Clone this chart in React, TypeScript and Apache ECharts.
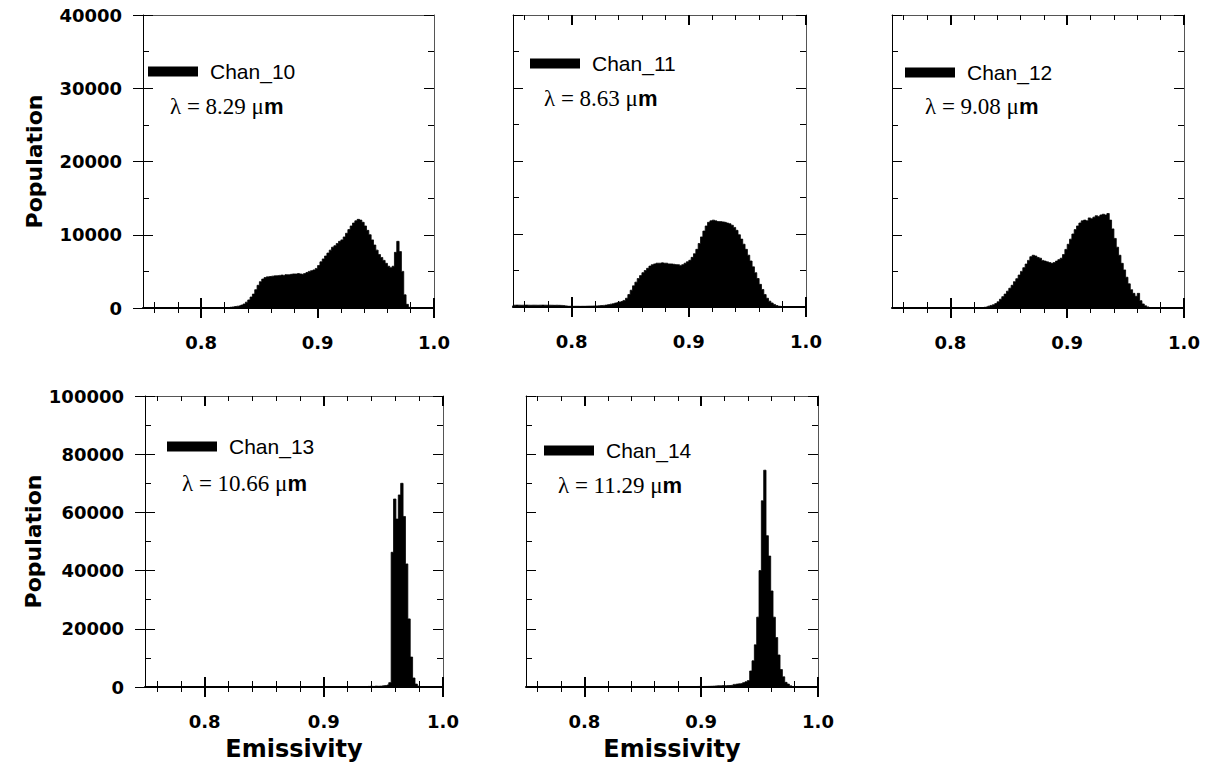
import React, { useEffect, useRef } from "react";
import * as echarts from "echarts";

// ---------- data ----------
const BIN = 0.002;
const X_MIN = 0.75;
const X_MAX = 1.0;
const MAJOR_X = [0.8, 0.9, 1.0];
const MINOR_X = [0.76, 0.78, 0.82, 0.84, 0.86, 0.88, 0.92, 0.94, 0.96, 0.98];

const CHANNELS = ["Chan_10", "Chan_11", "Chan_12", "Chan_13", "Chan_14"];
const WAVELENGTHS = ["8.29", "8.63", "9.08", "10.66", "11.29"];
const Y_MAX = [40000, 40000, 40000, 100000, 100000];
const Y_STEP = [10000, 10000, 10000, 20000, 20000];

// first bin centre of each channel
const CHAN10_START = 0.823;
const CHAN10 = [
  50, 100, 150, 200, 250, 300, 400, 550, 800, 1100, 1500, 1900, 2500, 3100, 3600, 3950,
  4150, 4250, 4300, 4350, 4400, 4400, 4450, 4500, 4450, 4550, 4550, 4600, 4650, 4650,
  4700, 4650, 4600, 4700, 4850, 5000, 5100, 5200, 5400, 5800, 6300, 6700, 7100, 7500,
  7900, 8300, 8500, 8800, 9100, 9300, 9700, 10200, 10700, 11200, 11600, 11900, 12100,
  12000, 11700, 11200, 10600, 10000, 9300, 8600, 7900, 7300, 6900, 6500, 6100, 5700,
  5500, 5700, 7600, 9100, 7700, 5000, 1800, 500, 100,
];

const CHAN11_START = 0.751;
const CHAN11 = [
  250, 260, 250, 240, 250, 260, 250, 240, 250, 250, 240, 250, 260, 250, 240, 250, 240,
  230, 240, 230, 220, 200, 150, 100, 100, 90, 100, 100, 90, 100, 100, 110, 120, 130, 140,
  150, 170, 190, 220, 260, 320, 390, 460, 540, 620, 700, 780, 900, 1200, 1700, 2300,
  2900, 3400, 3900, 4300, 4700, 5000, 5300, 5600, 5800, 5900, 6000, 6000, 6050, 6000,
  6000, 5900, 5900, 5850, 5800, 5800, 5700, 5800, 6000, 6200, 6400, 6800, 7300, 7900,
  8700, 9600, 10400, 11100, 11600, 11800, 11900, 11800, 11700, 11700, 11650, 11600,
  11500, 11400, 11200, 10900, 10500, 9900, 9300, 8600, 7900, 7100, 6300, 5500, 4700,
  3900, 3100, 2400, 1700, 1200, 800, 550, 350, 200, 100, 50,
];

const CHAN12_START = 0.827;
const CHAN12 = [
  50, 100, 150, 250, 350, 450, 600, 850, 1200, 1550, 1900, 2300, 2700, 3100, 3600, 4000,
  4500, 5000, 5500, 6000, 6500, 7000, 7200, 7100, 6900, 6800, 6500, 6400, 6300, 6200,
  6100, 6200, 6400, 6600, 6800, 7300, 8000, 8700, 9400, 10100, 10700, 11200, 11600,
  11900, 12000, 11900, 12300, 12200, 12400, 12600, 12500, 12700, 12800, 12700, 12900,
  12000, 10800, 9500, 8300, 7200, 6100, 5200, 4200, 3300, 2500, 2000, 1600, 2000, 1000,
  550, 300, 150, 50,
];

const CHAN13_START = 0.9375;
const CHAN13 = [
  200, 250, 200, 300, 250, 300, 400, 500, 700, 1500, 46300, 64600, 57700, 66000, 70000,
  58600, 42300, 23400, 10300, 3100, 1000, 300,
];

const CHAN14_START = 0.8705;
const CHAN14 = [
  150, 120, 150, 180, 150, 130, 160, 150, 170, 150, 140, 160, 150, 180, 200, 170, 190,
  200, 220, 250, 300, 380, 420, 450, 480, 450, 500, 520, 600, 900, 1000, 1100, 1200,
  1500, 1800, 2200, 5500, 9000, 14500, 24000, 40000, 64000, 74500, 52000, 45000, 33000,
  24000, 17000, 11000, 6000, 3500, 1600, 1000, 400,
];

const STARTS = [CHAN10_START, CHAN11_START, CHAN12_START, CHAN13_START, CHAN14_START];
const VALUES = [CHAN10, CHAN11, CHAN12, CHAN13, CHAN14];

// ---------- layout ----------
const GRIDS = [
  { left: 143, top: 15, width: 291, height: 293 },
  { left: 513, top: 15, width: 293, height: 292 },
  { left: 892, top: 15, width: 292, height: 293 },
  { left: 145, top: 396, width: 298, height: 291 },
  { left: 526, top: 396, width: 292, height: 291 },
];
const LEGEND_POS = [
  { x: 148, y: 72 },
  { x: 530, y: 64 },
  { x: 905, y: 73 },
  { x: 167, y: 447 },
  { x: 544, y: 451 },
];
const LAMBDA_POS = [
  { x: 170, y: 106 },
  { x: 544, y: 98 },
  { x: 925, y: 106 },
  { x: 182, y: 483 },
  { x: 558, y: 485 },
];

const BOLD_SANS = "DejaVu Sans";

function hist(start: number, values: number[]) {
  const pts: number[][] = [[start - BIN, 0]];
  values.forEach((v, k) => pts.push([+(start + k * BIN).toFixed(5), v]));
  pts.push([+(start + values.length * BIN).toFixed(5), 0]);
  return pts;
}

function buildOption() {
  const xAxis: any[] = [];
  const yAxis: any[] = [];
  const series: any[] = [];
  const legend: any[] = [];
  const graphic: any[] = [];

  GRIDS.forEach((_, i) => {
    const bottomRow = i >= 3;
    const showY = i === 0 || i === 3;
    const base = { gridIndex: i, type: "value", min: X_MIN, max: X_MAX, splitLine: { show: false } };

    const xMain = xAxis.length;
    xAxis.push({
      ...base,
      position: "bottom",
      axisLine: { show: true, onZero: false, lineStyle: { color: "#000", width: 2 } },
      axisTick: { show: true, inside: false, length: 10, customValues: MAJOR_X, lineStyle: { color: "#000", width: 2 } },
      axisLabel: {
        show: true,
        customValues: MAJOR_X,
        formatter: (v: number) => v.toFixed(1),
        margin: 25,
        fontFamily: BOLD_SANS,
        fontWeight: "bold",
        fontSize: 18,
        color: "#000",
      },
      name: bottomRow ? "Emissivity" : "",
      nameLocation: "middle",
      nameGap: 50,
      nameTextStyle: { fontFamily: BOLD_SANS, fontWeight: "bold", fontSize: 24, color: "#000" },
    });
    xAxis.push({
      ...base,
      position: "bottom",
      axisLine: { show: false, onZero: false },
      axisTick: { show: true, inside: true, length: 10, customValues: MAJOR_X, lineStyle: { color: "#000", width: 2 } },
      axisLabel: { show: false },
    });
    xAxis.push({
      ...base,
      position: "bottom",
      axisLine: { show: false, onZero: false },
      axisTick: { show: true, inside: false, length: 5, customValues: MINOR_X, lineStyle: { color: "#000", width: 1 } },
      axisLabel: { show: false },
    });
    xAxis.push({
      ...base,
      position: "bottom",
      axisLine: { show: false, onZero: false },
      axisTick: { show: true, inside: true, length: 6, customValues: MINOR_X, lineStyle: { color: "#000", width: 1 } },
      axisLabel: { show: false },
    });
    xAxis.push({
      ...base,
      position: "top",
      axisLine: { show: true, onZero: false, lineStyle: { color: "#555", width: 1 } },
      axisTick: { show: i > 0, inside: true, length: 10, customValues: MAJOR_X, lineStyle: { color: "#000", width: 2 } },
      axisLabel: { show: false },
    });
    if (i > 0) {
      xAxis.push({
        ...base,
        position: "top",
        axisLine: { show: false, onZero: false },
        axisTick: { show: true, inside: true, length: 5, customValues: MINOR_X, lineStyle: { color: "#000", width: 1 } },
        axisLabel: { show: false },
      });
    }

    const ybase = { gridIndex: i, type: "value", min: 0, max: Y_MAX[i], interval: Y_STEP[i], splitLine: { show: false }, minorSplitLine: { show: false } };
    const yMain = yAxis.length;
    yAxis.push({
      ...ybase,
      position: "left",
      axisLine: { show: true, onZero: false, lineStyle: { color: "#000", width: 1 } },
      axisTick: { show: true, inside: true, length: 10, lineStyle: { color: "#000", width: 1 } },
      minorTick: { show: true, splitNumber: 2, length: 6, lineStyle: { color: "#000", width: 1 } },
      axisLabel: {
        show: showY,
        margin: 21,
        formatter: (v: number) => String(v),
        fontFamily: BOLD_SANS,
        fontWeight: "bold",
        fontSize: 18,
        color: "#000",
      },
      name: showY ? "Population" : "",
      nameLocation: "middle",
      nameGap: 98,
      nameTextStyle: { fontFamily: BOLD_SANS, fontWeight: "bold", fontSize: 22, color: "#000" },
    });
    if (showY) {
      yAxis.push({
        ...ybase,
        position: "left",
        axisLine: { show: false, onZero: false },
        axisTick: { show: true, inside: false, length: 10, lineStyle: { color: "#000", width: 1 } },
        axisLabel: { show: false },
      });
    }
    yAxis.push({
      ...ybase,
      position: "right",
      axisLine: { show: true, onZero: false, lineStyle: { color: "#555", width: 1 } },
      axisTick: { show: true, inside: true, length: 10, lineStyle: { color: "#000", width: 1 } },
      minorTick: { show: true, splitNumber: 2, length: 6, lineStyle: { color: "#000", width: 1 } },
      axisLabel: { show: false },
    });

    series.push({
      type: "line",
      name: CHANNELS[i],
      xAxisIndex: xMain,
      yAxisIndex: yMain,
      data: hist(STARTS[i], VALUES[i]),
      step: "middle",
      symbol: "none",
      silent: true,
      lineStyle: { color: "#000", width: 0.8 },
      itemStyle: { color: "#000" },
      areaStyle: { color: "#000", opacity: 1 },
      z: 1,
    });

    legend.push({
      data: [CHANNELS[i]],
      left: LEGEND_POS[i].x,
      top: LEGEND_POS[i].y - 11,
      padding: 0,
      itemWidth: 50,
      itemHeight: 10,
      icon: "rect",
      selectedMode: false,
      itemStyle: { color: "#000" },
      textStyle: { fontFamily: "Liberation Sans", fontSize: 21, color: "#000", padding: [0, 0, 0, 7] },
    });

    graphic.push({
      type: "text",
      x: LAMBDA_POS[i].x,
      y: LAMBDA_POS[i].y,
      silent: true,
      style: {
        text: `{a|\u03bb = ${WAVELENGTHS[i]} \u03bc}{b|m}`,
        verticalAlign: "middle",
        align: "left",
        fill: "#000",
        rich: {
          a: { fontFamily: "Liberation Serif", fontSize: 23, fill: "#000" },
          b: { fontFamily: "Liberation Sans", fontWeight: "bold", fontSize: 22, fill: "#000" },
        },
      },
    });
  });

  return {
    animation: false,
    backgroundColor: "#fff",
    grid: GRIDS.map((g) => ({ ...g, containLabel: false })),
    xAxis,
    yAxis,
    series,
    legend,
    graphic,
  };
}

export default function App() {
  const ref = useRef<HTMLDivElement>(null);
  useEffect(() => {
    if (!ref.current) return;
    const chart = echarts.init(ref.current, undefined, { renderer: "svg" });
    chart.setOption(buildOption() as any);
    return () => chart.dispose();
  }, []);
  return (
    <div
      ref={ref}
      style={{ position: "absolute", left: 0, top: 0, width: 1206, height: 765, background: "#fff" }}
    />
  );
}
